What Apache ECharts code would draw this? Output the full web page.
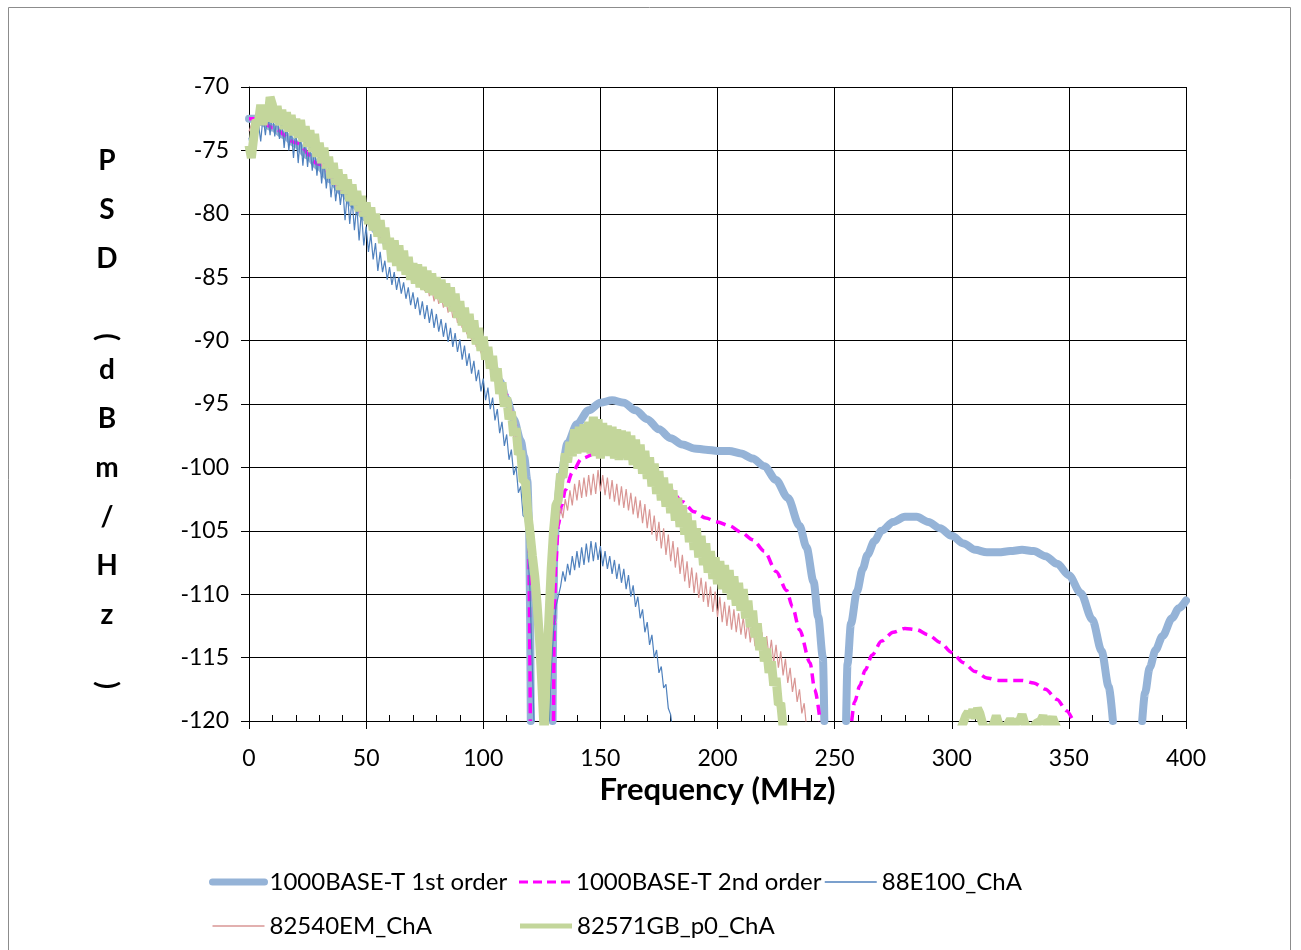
<!DOCTYPE html>
<html>
<head>
<meta charset="utf-8">
<title>PSD vs Frequency</title>
<script src="https://cdn.jsdelivr.net/npm/echarts@6/dist/echarts.min.js"></script>
<style>
  html, body { margin: 0; padding: 0; background: #fff; }
  #main { width: 1301px; height: 950px; }
</style>
</head>
<body>
<div id="main"></div>
<script>
// series names (legend order)
var seriesNames = ['1000BASE-T 1st order', '1000BASE-T 2nd order', '88E100_ChA', '82540EM_ChA', '82571GB_p0_ChA'];

// 1000BASE-T 1st order mask (MHz, dBm/Hz), null = gap below -120
var fo1Freq = [0, 3, 6, 10, 15, 20, 25, 30, 35, 40, 45, 50, 55, 60, 65, 70, 75, 80, 85, 90,
    95, 100, 104, 107, 110, 113, 116, 117.5, 118.8, 119.6, 120.3, 125, 129.6, 129.9, 130.4, 131.5, 133, 136, 140, 145,
    150, 155, 160, 165, 170, 175, 180, 185, 190, 195, 200, 205, 210, 215, 220, 225, 230, 235, 238, 241,
    243, 245, 245.6, 250, 254.9, 255.5, 257, 259.5, 262, 264, 267, 270, 275, 280, 285, 290, 295, 300, 305, 310,
    315, 320, 325, 330, 335, 340, 345, 350, 355, 360, 364, 367, 368.8, 375, 381.3, 382.5, 384.5, 387, 390, 394,
    397, 400];
var fo1Psd = [-72.5, -72.5, -72.8, -73.2, -73.8, -74.5, -75.4, -76.3, -77.3, -78.3, -79.3, -80.3, -81.4, -82.5, -83.4, -84.2, -85.0, -85.8, -86.7, -87.8,
    -89.1, -90.6, -92.0, -93.2, -94.6, -96.2, -97.9, -99.2, -101.0, -104.5, -120, null, -120, -112, -106, -103, -100.8, -98.1, -96.6, -95.5,
    -94.9, -94.7, -94.9, -95.5, -96.2, -97.0, -97.7, -98.2, -98.5, -98.6, -98.7, -98.7, -98.9, -99.3, -99.9, -101.0, -102.4, -104.6, -106.3, -109.0,
    -111.8, -115.0, -120, null, -120, -115.5, -112.3, -109.8, -108.0, -106.9, -105.8, -105.0, -104.3, -103.9, -103.9, -104.3, -104.8, -105.4, -106.0, -106.5,
    -106.7, -106.7, -106.6, -106.5, -106.6, -107.0, -107.6, -108.5, -109.9, -112.0, -114.5, -117.3, -120, null, -120, -117.8, -115.8, -114.4, -113.3, -111.9,
    -111.1, -110.5];

// 1000BASE-T 2nd order mask
var fo2Freq = [0, 3, 6, 10, 20, 30, 40, 50, 60, 70, 80, 90, 100, 105, 110, 113, 116, 118, 119.3, 120.1,
    125, 130, 130.3, 131, 132, 133.5, 135, 138, 142, 148, 155, 162, 166, 170, 175, 180, 185, 190, 195, 200,
    205, 210, 215, 220, 225, 229.5, 232, 235, 239.5, 241.5, 243.8, 250, 257.3, 258.5, 260.8, 263, 266, 270, 275, 280,
    285, 290, 295, 300, 305, 310, 315, 320, 325, 330, 335, 340, 345, 349, 351.8];
var fo2Psd = [-72.5, -72.5, -72.8, -73.2, -74.4, -76.1, -78.1, -80.2, -82.4, -84.4, -86.0, -87.9, -90.3, -92.0, -94.3, -96.2, -98.8, -101.5, -104.5, -120,
    null, -120, -112, -107.5, -104.6, -103, -101.8, -100.4, -99.3, -98.9, -98.7, -98.8, -99.1, -99.7, -100.8, -101.8, -102.7, -103.5, -104.0, -104.3,
    -104.6, -105.1, -105.7, -106.6, -108.2, -109.7, -111.0, -112.8, -115.4, -117.5, -120, null, -120, -118.5, -117.2, -116.0, -114.8, -113.7, -113.0, -112.7,
    -112.8, -113.2, -113.8, -114.6, -115.4, -116.1, -116.6, -116.8, -116.8, -116.8, -117.0, -117.5, -118.3, -119.2, -120];

// measured traces, one value per MHz starting at 0 MHz
var e100Psd = [
    -74.0, -75.2, -73.6, -74.6, -72.8, -74.3, -72.3, -73.8, -72.0, -73.8,
    -71.8, -73.9, -72.2, -74.1, -72.5, -74.8, -72.9, -75.0, -73.2, -75.6,
    -73.4, -76.0, -73.8, -76.2, -74.1, -76.3, -74.4, -76.6, -74.7, -77.0,
    -75.1, -77.6, -75.7, -78.0, -76.3, -78.7, -76.9, -79.0, -77.4, -79.3,
    -77.8, -80.5, -78.3, -80.8, -78.8, -81.3, -79.3, -82.1, -79.8, -82.5,
    -81.0, -83.0, -81.6, -83.6, -82.3, -84.5, -83.0, -84.6, -83.7, -85.2,
    -84.2, -85.6, -84.6, -86.0, -85.0, -86.3, -85.4, -86.7, -85.8, -87.2,
    -86.2, -87.5, -86.6, -88.0, -86.9, -88.3, -87.2, -88.6, -87.5, -89.0,
    -87.9, -89.3, -88.3, -89.7, -88.6, -90.1, -89.0, -90.5, -89.4, -90.9,
    -89.9, -91.5, -90.4, -92.0, -91.0, -92.6, -91.6, -93.2, -92.3, -94.0,
    -93.0, -94.7, -93.7, -95.4, -94.5, -96.3, -95.4, -97.3, -96.4, -98.3,
    -97.4, -99.4, -98.6, -100.6, -99.9, -102.0, -101.5, -103.8, -104.0, -106.2,
    -110.0, -116.0, -122, -122, -122, -122, -122, -122, -121, -116,
    -113, -111.0, -110.2, -109.4, -108.2, -109.0, -107.6, -108.5, -107.0, -108.1,
    -106.6, -107.9, -106.3, -107.7, -106.0, -107.5, -105.8, -107.4, -105.9, -107.3,
    -106.2, -107.8, -106.6, -108.0, -107.0, -108.4, -107.3, -108.8, -107.6, -109.1,
    -108.0, -109.6, -108.5, -110.2, -109.3, -111.0, -110.2, -111.9, -111.2, -113.0,
    -112.2, -114.0, -113.2, -115.0, -114.4, -116.2, -115.7, -117.4, -117.1, -119.0,
    -119.5, -121];

var em540Psd = [
    -73.5, -73.0, -72.6, -72.9, -72.2, -72.5, -72.0, -72.4, -71.7, -72.2,
    -71.6, -72.3, -71.9, -72.7, -72.2, -72.9, -72.5, -73.3, -72.8, -73.5,
    -73.0, -73.7, -73.4, -74.1, -73.7, -74.4, -74.0, -74.7, -74.3, -75.0,
    -74.8, -75.5, -75.2, -76.0, -75.6, -76.5, -76.1, -77.0, -76.6, -77.5,
    -77.1, -77.9, -77.6, -78.4, -78.0, -78.9, -78.5, -79.4, -79.0, -79.9,
    -79.5, -80.4, -80.0, -80.9, -80.5, -81.4, -81.0, -81.9, -81.5, -82.4,
    -82.4, -83.2, -82.8, -83.7, -83.2, -84.1, -83.6, -84.6, -84.0, -85.0,
    -84.5, -85.4, -84.8, -85.8, -85.1, -86.1, -85.4, -86.5, -85.8, -86.9,
    -86.1, -87.1, -86.4, -87.4, -86.7, -87.8, -87.0, -88.2, -87.4, -88.6,
    -87.9, -89.0, -88.3, -89.5, -88.8, -90.0, -89.3, -90.5, -89.8, -91.0,
    -90.3, -91.6, -90.9, -92.3, -91.6, -93.1, -92.4, -94.0, -93.3, -95.0,
    -94.3, -96.2, -95.5, -97.6, -97.0, -99.2, -98.8, -101.2, -101.0, -103.6,
    -104.0, -107.0, -109.5, -113.5, -118.0, -122, -117.5, -113.5, -110.0, -108.0,
    -106.0, -104.8, -104.6, -103.2, -104.0, -102.5, -103.4, -101.8, -103.0, -101.3,
    -102.6, -101.0, -102.4, -100.8, -102.3, -100.6, -102.2, -100.5, -102.1, -100.2,
    -101.9, -100.6, -102.2, -100.8, -102.5, -101.0, -102.7, -101.3, -103.0, -101.5,
    -103.2, -101.7, -103.4, -102.0, -103.7, -102.3, -104.0, -102.6, -104.4, -102.9,
    -104.8, -103.3, -105.3, -103.8, -105.8, -104.3, -106.4, -104.8, -106.9, -105.3,
    -107.4, -105.8, -107.9, -106.3, -108.4, -106.9, -109.0, -107.4, -109.5, -107.9,
    -109.9, -108.3, -110.3, -108.7, -110.6, -109.0, -111.0, -109.4, -111.4, -109.8,
    -111.8, -110.2, -112.2, -110.6, -112.5, -110.9, -112.8, -111.2, -113.0, -111.5,
    -113.2, -111.8, -113.5, -112.1, -113.8, -112.4, -114.1, -112.7, -114.4, -113.0,
    -114.7, -113.3, -115.0, -113.6, -115.4, -114.0, -115.8, -114.5, -116.4, -115.1,
    -117.0, -115.8, -117.7, -116.6, -118.5, -117.5, -119.4, -118.6, -120.5];

var gb571Psd = [
    -74.6, -75.6, -74.0, -72.6, -72.8, -71.4, -73.0, -71.5, -72.7, -70.8,
    -71.4, -72.8, -71.5, -73.0, -71.8, -73.3, -72.0, -73.5, -72.2, -73.8,
    -72.5, -74.0, -72.6, -74.3, -73.1, -74.7, -73.4, -75.1, -73.7, -75.5,
    -74.4, -76.0, -74.8, -76.4, -75.5, -77.2, -76.0, -77.7, -76.5, -78.1,
    -76.9, -78.4, -77.3, -79.0, -77.7, -79.3, -78.2, -79.8, -78.6, -80.2,
    -79.1, -80.8, -79.5, -81.3, -80.0, -81.8, -80.5, -82.3, -81.1, -82.8,
    -81.9, -83.8, -82.1, -84.1, -82.5, -84.5, -82.9, -84.8, -83.4, -85.2,
    -83.9, -85.5, -84.0, -85.8, -84.2, -86.0, -84.5, -86.2, -84.7, -86.4,
    -85.0, -86.7, -85.2, -87.0, -85.5, -87.3, -85.8, -87.7, -86.3, -88.2,
    -86.9, -88.8, -87.4, -89.3, -87.9, -89.8, -88.4, -90.3, -89.0, -90.8,
    -89.7, -91.5, -90.5, -92.2, -91.2, -93.2, -92.2, -94.2, -93.3, -95.2,
    -94.5, -96.2, -95.6, -97.5, -96.9, -99.0, -98.7, -101.1, -101.1, -103.6,
    -105.2, -107.0, -108.6, -110.8, -113.5, -117.0, -121, -116.0, -112.0, -108.0,
    -105.0, -103.0, -102.6, -100.5, -100.8, -98.9, -99.6, -98.0, -99.1, -97.0,
    -98.9, -96.8, -98.8, -96.6, -98.8, -96.4, -98.9, -96.0, -99.1, -96.2,
    -99.3, -96.5, -99.0, -96.7, -99.1, -96.8, -99.3, -97.0, -99.4, -97.1,
    -99.2, -97.2, -99.4, -97.5, -99.8, -97.8, -100.1, -98.2, -100.5, -98.7,
    -100.9, -99.2, -101.5, -99.7, -102.1, -100.3, -102.6, -100.8, -103.1, -101.3,
    -103.6, -101.8, -104.2, -102.4, -104.7, -103.0, -105.3, -103.6, -105.9, -104.2,
    -106.5, -104.8, -107.1, -105.4, -107.7, -106.0, -108.3, -106.6, -108.8, -107.1,
    -109.2, -107.4, -109.6, -107.7, -109.9, -108.1, -110.4, -108.6, -110.9, -109.1,
    -111.3, -109.6, -111.9, -110.5, -112.6, -111.3, -113.4, -112.3, -114.4, -113.4,
    -115.3, -114.3, -116.2, -115.3, -117.2, -116.6, -118.7, -118.6, -120.5];
// 82571GB bumps near the floor, 300-350 MHz
var gb571TailFreq = [303, 305, 306, 307, 308, 309, 310, 311, 312, 313, 315, 318, 319, 320, 322,
    324, 325, 326, 329, 330, 331, 333, 336, 338, 339, 340, 342, 343, 344, 346];
var gb571TailPsd = [-121, -120.1, -119.6, -119.3, -119.7, -119.1, -119.8, -119.0, -119.4, -120.1, -121, -120.2, -119.6, -120.2, -121,
    -120.2, -119.9, -120.2, -120.0, -119.5, -120.1, -121, -120.2, -120.0, -119.6, -120.2, -120.1, -119.7, -120.2, -121];

var xTicks = { min: 0, max: 400, interval: 50 };
var yTicks = { min: -120, max: -70, interval: 5 };

function pairs(freq, psd) {
    var out = [];
    for (var i = 0; i < freq.length; i++) {
        out.push([freq[i], psd[i]]);
    }
    return out;
}
function perMhz(psd) {
    var out = [];
    for (var i = 0; i < psd.length; i++) {
        out.push([i, psd[i]]);
    }
    return out;
}

var font = 'Lato';
var gb571Data = perMhz(gb571Psd);
gb571Data.push([260, null]);
gb571Data = gb571Data.concat(pairs(gb571TailFreq, gb571TailPsd));

var myChart = echarts.init(document.getElementById('main'), null, {width: 1301, height: 950});
var option = {
    animation: false,
    backgroundColor: '#fff',
    textStyle: {fontFamily: font},
    grid: {left: 249, right: 115, top: 87, bottom: 229, containLabel: false},
    legend: {
        left: 204,
        top: 855,
        width: 940,
        itemWidth: 52,
        itemHeight: 14,
        itemGap: 0,
        itemStyle: {opacity: 0},
        textStyle: {fontFamily: font, fontSize: 24, color: '#000', width: 248, lineHeight: 44},
        data: [
            {name: seriesNames[0], lineStyle: {width: 7, cap: 'round'}},
            {name: seriesNames[1], lineStyle: {width: 3, type: [9, 5]}},
            {name: seriesNames[2], lineStyle: {width: 1.5}},
            {name: seriesNames[3], lineStyle: {width: 1.5}},
            {name: seriesNames[4], lineStyle: {width: 5}}
        ]
    },
    xAxis: [
        {
            type: 'value',
            min: xTicks.min,
            max: xTicks.max,
            interval: xTicks.interval,
            name: 'Frequency (MHz)',
            nameLocation: 'middle',
            nameGap: 50,
            nameTextStyle: {fontFamily: font, fontSize: 31, fontWeight: 'bold', color: '#000'},
            axisLine: {show: true, lineStyle: {color: '#000', width: 1}},
            axisTick: {show: true, length: 8, lineStyle: {color: '#000'}},
            axisLabel: {fontFamily: font, fontSize: 23, color: '#000', margin: 26},
            splitLine: {show: true, lineStyle: {color: '#000', width: 1}}
        },
        {
            // small inside ticks every 10 MHz
            type: 'value',
            position: 'bottom',
            min: xTicks.min,
            max: xTicks.max,
            interval: 10,
            axisLine: {show: false},
            axisTick: {show: true, inside: true, length: 6, lineStyle: {color: '#000'}},
            axisLabel: {show: false},
            splitLine: {show: false}
        }
    ],
    yAxis: {
        type: 'value',
        min: yTicks.min,
        max: yTicks.max,
        interval: yTicks.interval,
        axisLine: {show: true, lineStyle: {color: '#000', width: 1}},
        axisTick: {show: true, length: 8, lineStyle: {color: '#000'}},
        axisLabel: {fontFamily: font, fontSize: 23, color: '#000', margin: 20},
        splitLine: {show: true, lineStyle: {color: '#000', width: 1}}
    },
    graphic: [
        {
            type: 'rect',
            silent: true,
            shape: {x: 8.5, y: 7.5, width: 1282, height: 980},
            style: {fill: 'none', stroke: '#8c8c8c', lineWidth: 1}
        },
        {
            type: 'text', x: 107, y: 136,
            style: {text: 'P\nS\nD', font: 'bold 28px ' + font, fill: '#000', align: 'center', textAlign: 'center', lineHeight: 49}
        },
        {
            type: 'text', x: 107, y: 337, rotation: -Math.PI / 2,
            style: {text: '(', font: 'bold 28px ' + font, fill: '#000', align: 'center', textAlign: 'center',
                verticalAlign: 'middle', textVerticalAlign: 'middle'}
        },
        {
            type: 'text', x: 107, y: 345,
            style: {text: 'd\nB\nm\n/\nH\nz', font: 'bold 28px ' + font, fill: '#000', align: 'center', textAlign: 'center', lineHeight: 49}
        },
        {
            type: 'text', x: 107, y: 685, rotation: -Math.PI / 2,
            style: {text: ')', font: 'bold 28px ' + font, fill: '#000', align: 'center', textAlign: 'center',
                verticalAlign: 'middle', textVerticalAlign: 'middle'}
        }
    ],
    series: [
        {
            name: seriesNames[0],
            type: 'line',
            symbol: 'none',
            smooth: 0.3,
            smoothMonotone: 'x',
            connectNulls: false,
            lineStyle: {color: '#95b3d7', width: 8, cap: 'round'},
            itemStyle: {color: '#95b3d7'},
            data: pairs(fo1Freq, fo1Psd)
        },
        {
            name: seriesNames[1],
            type: 'line',
            symbol: 'none',
            smooth: 0.3,
            smoothMonotone: 'x',
            connectNulls: false,
            lineStyle: {color: '#ff00ff', width: 3.5, type: [10, 6]},
            itemStyle: {color: '#ff00ff'},
            data: pairs(fo2Freq, fo2Psd)
        },
        {
            name: seriesNames[2],
            type: 'line',
            symbol: 'none',
            lineStyle: {color: '#4f81bd', width: 1.2},
            itemStyle: {color: '#4f81bd'},
            data: perMhz(e100Psd)
        },
        {
            name: seriesNames[3],
            type: 'line',
            symbol: 'none',
            lineStyle: {color: '#d99694', width: 1.2},
            itemStyle: {color: '#d99694'},
            data: perMhz(em540Psd)
        },
        {
            name: seriesNames[4],
            type: 'line',
            symbol: 'none',
            connectNulls: false,
            lineStyle: {color: '#c3d69b', width: 9},
            itemStyle: {color: '#c3d69b'},
            data: gb571Data
        }
    ]
};
myChart.setOption(option, false);
</script>
</body>
</html>
